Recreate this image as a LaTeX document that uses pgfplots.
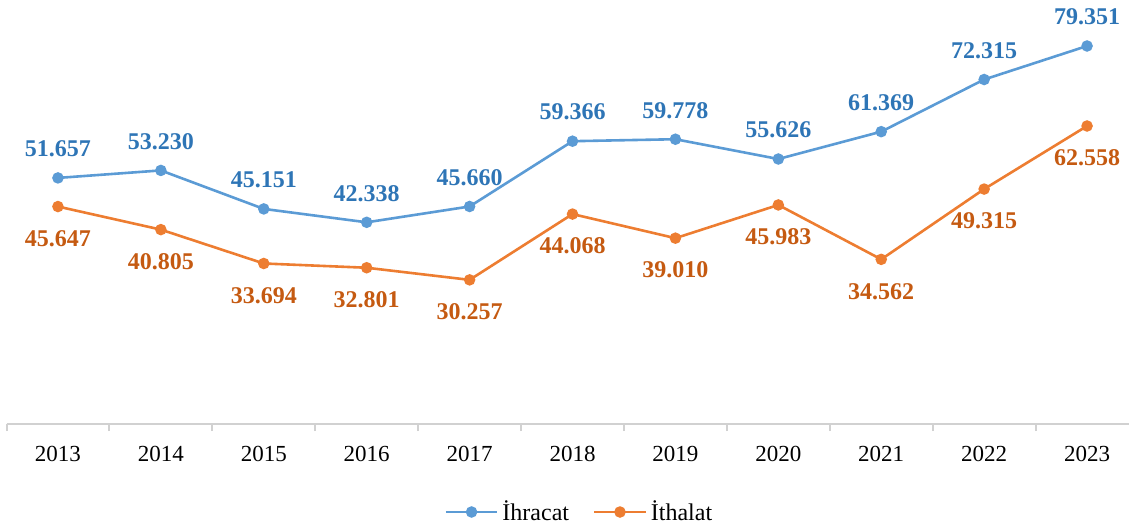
\documentclass[border=0pt]{standalone}
\usepackage{pgfplots}
\pgfplotsset{compat=1.18}
\usepackage{fontspec}
\setmainfont{Liberation Serif}
\definecolor{ihr}{HTML}{5B9BD5}
\definecolor{ith}{HTML}{ED7D31}
\definecolor{ihrlab}{HTML}{2E75B6}
\definecolor{ithlab}{HTML}{C55A11}
\begin{document}
\begin{tikzpicture}
\begin{axis}[
  at={(0,0)}, anchor=south west,
  scale only axis, width=566pt, height=212pt,
  xmin=-0.5, xmax=10.5, ymin=0, ymax=89,
  clip=false,
  axis x line=bottom, hide y axis,
  x axis line style={-, draw=black!18, line width=1pt},
  xtick={0,...,10},
  xticklabels={2013,2014,2015,2016,2017,2018,2019,2020,2021,2022,2023},
  major tick length=0pt,
  minor xtick={-0.5,0.5,...,10.5},
  minor tick length=3.5pt, tick align=outside,
  minor tick style={draw=black!18, line width=1pt},
  xticklabel style={font=\fontsize{11.5}{13}\selectfont, yshift=-7.5pt},
  /pgf/number format/assume math mode=true,
  nodes near coords={\pgfmathprintnumber[fixed, fixed zerofill, precision=3]{\pgfplotspointmeta}},
  nodes near coords style={font=\bfseries\fontsize{12}{14}\selectfont, anchor=center},
  legend columns=2,
  legend style={at={(0.507,0)}, anchor=center, yshift=-44pt, draw=none,
    font=\fontsize{12}{14}\selectfont,
    /tikz/every even column/.append style={column sep=10pt}},
  legend image code/.code={\draw[mark repeat=2, mark phase=2] plot coordinates {(0cm,0cm)(0.45cm,0cm)(0.9cm,0cm)};},
]
\addplot[color=ihr, line width=1.3pt, mark=*, mark size=2.2pt,
  every node near coord/.append style={text=ihrlab, yshift=14.5pt}] coordinates {
  (0,51.657) (1,53.230) (2,45.151) (3,42.338) (4,45.660) (5,59.366)
  (6,59.778) (7,55.626) (8,61.369) (9,72.315) (10,79.351)
};
\addlegendentry{İhracat}
\addplot[color=ith, line width=1.3pt, mark=*, mark size=2.2pt,
  every node near coord/.append style={text=ithlab, yshift=-16pt}] coordinates {
  (0,45.647) (1,40.805) (2,33.694) (3,32.801) (4,30.257) (5,44.068)
  (6,39.010) (7,45.983) (8,34.562) (9,49.315) (10,62.558)
};
\addlegendentry{İthalat}
\end{axis}
\pgfresetboundingbox
\useasboundingbox (-3.25pt,-53.5pt) rectangle (561.25pt,212pt);
\end{tikzpicture}
\end{document}
